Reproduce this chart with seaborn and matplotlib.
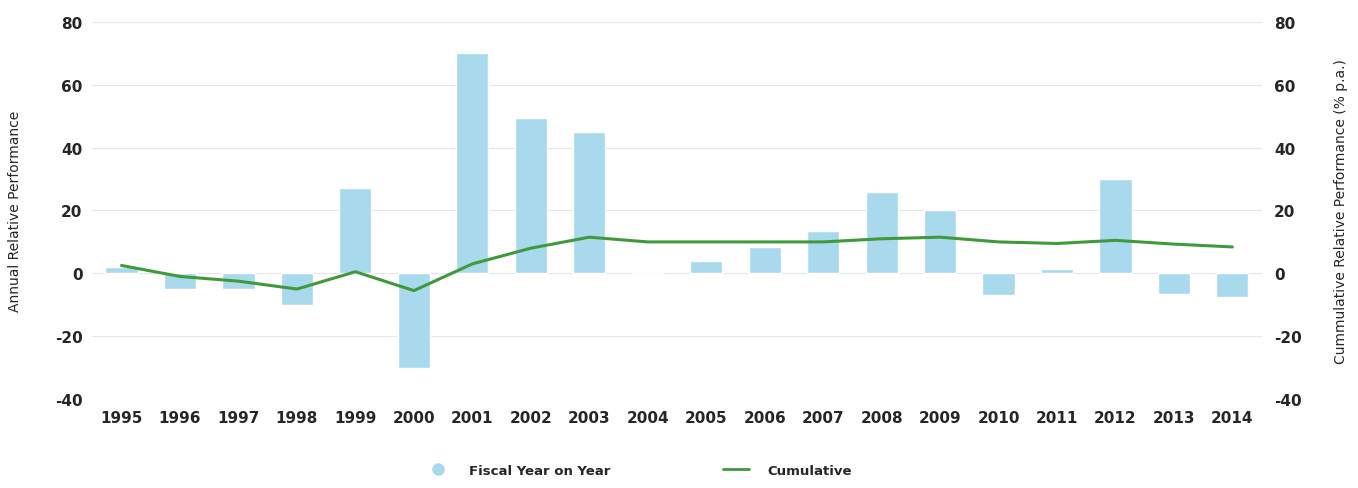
import numpy as np
import pandas as pd
import matplotlib
matplotlib.use('Agg')
import matplotlib.pyplot as plt
from matplotlib.lines import Line2D
import seaborn as sns

years = list(range(1995, 2015))
annual = [2, -5, -5, -10, 27, -30, 70, 49.5, 45, 0,
          4, 8.5, 13.5, 26, 20, -7, 1.5, 30, -6.5, -7.5]
cumulative = [2.5, -1, -2.5, -5, 0.5, -5.5, 3, 8, 11.5, 10,
              10, 10, 10, 11, 11.5, 10, 9.5, 10.5, 9.3, 8.4]

df = pd.DataFrame({'Year': years, 'Annual': annual, 'Cumulative': cumulative})

sns.set_style('white')
plt.rcParams['font.family'] = ['DejaVu Sans']
plt.rcParams['axes.unicode_minus'] = False

bar_color = '#a9d9ec'
line_color = '#3f9a3c'

fig = plt.figure(figsize=(13.58, 4.89), dpi=100)
ax = fig.add_axes([0.068, 0.182, 0.861, 0.771])

sns.barplot(data=df, x='Year', y='Annual', native_scale=True, color=bar_color,
            width=0.55, saturation=1, ax=ax, zorder=2)

ax2 = ax.twinx()
sns.lineplot(data=df, x='Year', y='Cumulative', color=line_color, lw=2.2,
             ax=ax2)

for a in (ax, ax2):
    a.set_ylim(-40, 80)
    a.set_yticks([-40, -20, 0, 20, 40, 60, 80])
    for s in a.spines.values():
        s.set_visible(False)
    a.tick_params(length=0, labelsize=11)
    for t in a.get_yticklabels():
        t.set_fontweight('bold')

ax.set_xlim(1994.5, 2014.5)
ax.set_xticks(years)
ax.set_xticklabels([str(y) for y in years], fontweight='bold', fontsize=11)
ax.tick_params(axis='x', pad=8)
ax.tick_params(axis='y', pad=7)
ax2.tick_params(axis='y', pad=9)
ax.yaxis.grid(True, color='#e6e6e6', lw=0.8)
ax.set_axisbelow(True)

ax.set_xlabel('')
ax.set_ylabel('Annual Relative Performance', fontsize=10, fontweight='medium')
ax.yaxis.set_label_coords(-0.060, 0.5)
ax2.set_ylabel('Cummulative Relative Performance (% p.a.)', fontsize=10,
               fontweight='medium')
ax2.yaxis.set_label_coords(1.062, 0.5)

handles = [Line2D([], [], marker='o', ls='', color=bar_color, markersize=8),
           Line2D([], [], color=line_color, lw=2)]
fig.legend(handles, ['Fiscal Year on Year', 'Cumulative'], loc='lower center',
           ncol=2, frameon=False, bbox_to_anchor=(0.47, -0.002),
           columnspacing=8.5, handletextpad=1.4,
           prop={'weight': 'bold', 'size': 9.5})

fig.savefig('out.png', dpi=100)
